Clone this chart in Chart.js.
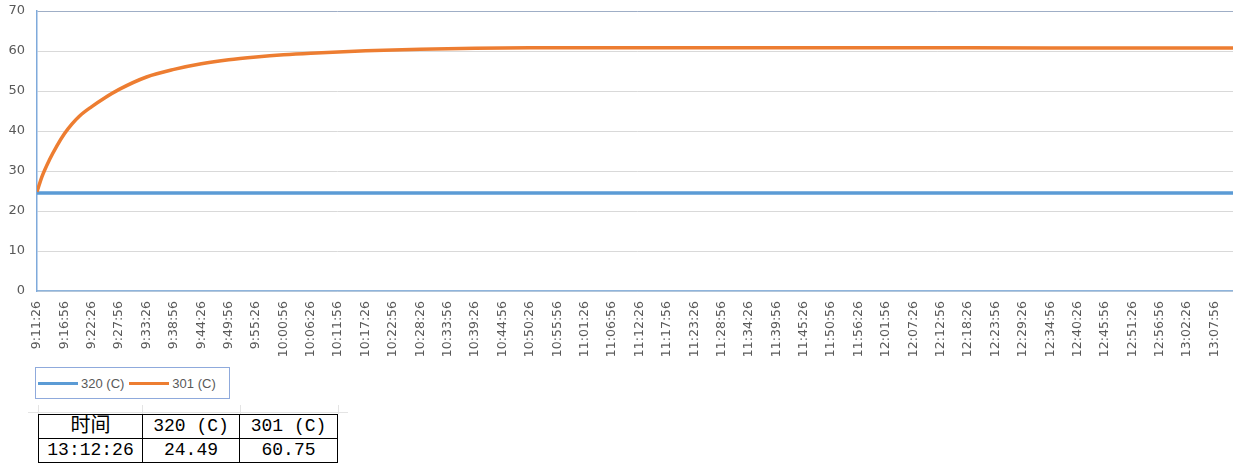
<!DOCTYPE html>
<html>
<head>
<meta charset="utf-8">
<script src="https://cdn.jsdelivr.net/npm/chart.js@4/dist/chart.umd.min.js"></script>
<style>
  html, body { margin: 0; padding: 0; background: #fff; width: 1233px; height: 464px; overflow: hidden; }
  #wrap { position: absolute; left: 0; top: 0; width: 1237px; height: 362px; }
  #legend { position: absolute; left: 35px; top: 367px; width: 195px; height: 32px; border: 1px solid #8FAADC; display: flex; align-items: center; padding: 0 0 0 2px; font-family: "Liberation Sans", Arial, sans-serif; font-size: 13px; color: #595959; box-sizing: border-box; }
  #legend .item { display: flex; align-items: center; margin-right: 5px; }
  #legend .swatch { width: 40px; height: 3px; margin-right: 3px; }
  #tbl { position: absolute; left: 38px; top: 414px; border-collapse: collapse; font-family: "Liberation Mono", "Noto Sans CJK SC", monospace; font-size: 18px; color: #000; }
  #tbl td { border: 1.5px solid #000; text-align: center; padding: 0; height: 23px; line-height: 23px; }
  .gl { position: absolute; background: #E4E4E4; }
</style>
</head>
<body>
<div id="wrap"><canvas id="c"></canvas></div>
<div id="legend"></div>
<div class="gl" style="left:28px; top:412px; width:320px; height:1px;"></div>
<div class="gl" style="left:38px; top:405px; width:1px; height:9px;"></div>
<div class="gl" style="left:142px; top:405px; width:1px; height:9px;"></div>
<div class="gl" style="left:240px; top:405px; width:1px; height:9px;"></div>
<div class="gl" style="left:338px; top:405px; width:1px; height:9px;"></div>
<table id="tbl"></table>
<script>
// ---- data ----
const startTime = '9:11:26';
const endTime = '13:12:26';
const tickLabels = ['9:11:26','9:16:56','9:22:26','9:27:56','9:33:26','9:38:56','9:44:26','9:49:56','9:55:26','10:00:56',
  '10:06:26','10:11:56','10:17:26','10:22:56','10:28:26','10:33:56','10:39:26','10:44:56','10:50:26','10:55:56',
  '11:01:26','11:06:56','11:12:26','11:17:56','11:23:26','11:28:56','11:34:26','11:39:56','11:45:26','11:50:56',
  '11:56:26','12:01:56','12:07:26','12:12:56','12:18:26','12:23:56','12:29:26','12:34:56','12:40:26','12:45:56',
  '12:51:26','12:56:56','13:02:26','13:07:56'];
const seriesNames = ['320 (C)', '301 (C)'];
const sampleTimes = ['9:11:26','9:12:26','9:13:56','9:15:26','9:16:56','9:18:26','9:19:56','9:22:26','9:24:56','9:27:56',
  '9:33:26','9:38:56','9:44:26','9:49:56','9:55:26','10:00:56','10:06:26','10:17:26','10:28:26','10:39:26',
  '10:50:26','11:12:26','11:45:26','12:18:26','12:51:26','13:12:26'];
const values320 = [24.5,24.5,24.5,24.5,24.5,24.5,24.5,24.5,24.5,24.5,
  24.5,24.5,24.5,24.5,24.5,24.5,24.5,24.5,24.5,24.5,
  24.5,24.5,24.5,24.5,24.5,24.49];
const values301 = [24.8,28.6,32.8,36.3,39.3,41.7,43.7,46.1,48.2,50.4,
  53.5,55.4,56.8,57.8,58.5,59.05,59.45,60.05,60.45,60.7,
  60.8,60.8,60.8,60.8,60.75,60.75];
const tableHeader = ['时间', '320 (C)', '301 (C)'];
const tableRow = ['13:12:26', '24.49', '60.75'];
const colors = ['#5B9BD5', '#ED7D31'];

// ---- helpers ----
function toSec(t) { const p = t.split(':').map(Number); return p[0]*3600 + p[1]*60 + p[2]; }
const t0 = toSec(startTime);
const rel = t => toSec(t) - t0;
const pts = vals => sampleTimes.map((t, i) => ({ x: rel(t), y: vals[i] }));

// legend
const lg = document.getElementById('legend');
seriesNames.forEach((n, i) => {
  const it = document.createElement('div'); it.className = 'item';
  it.innerHTML = '<div class="swatch" style="background:' + colors[i] + '"></div><span>' + n + '</span>';
  lg.appendChild(it);
});
// table
const tb = document.getElementById('tbl');
[tableHeader, tableRow].forEach((r, ri) => {
  const tr = document.createElement('tr');
  r.forEach((c, j) => {
    const td = document.createElement('td'); td.textContent = c;
    td.style.width = [103, 96, 97][j] + 'px';
    if (ri === 0 && j === 0) td.style.fontSize = '20px';
    tr.appendChild(td);
  });
  tb.appendChild(tr);
});

Chart.defaults.font.family = '"DejaVu Sans", "Liberation Sans", sans-serif';
Chart.defaults.color = '#595959';

new Chart(document.getElementById('c'), {
  type: 'line',
  data: {
    datasets: [
      { label: seriesNames[0], data: pts(values320), borderColor: colors[0], backgroundColor: colors[0], borderWidth: 3.5, pointRadius: 0, order: 1, cubicInterpolationMode: 'monotone' },
      { label: seriesNames[1], data: pts(values301), borderColor: colors[1], backgroundColor: colors[1], borderWidth: 3.5, pointRadius: 0, order: 0, cubicInterpolationMode: 'monotone' }
    ]
  },
  options: {
    responsive: true,
    maintainAspectRatio: false,
    animation: false,
    layout: { padding: { top: 11, left: 0, right: 0, bottom: 0 } },
    plugins: { legend: { display: false }, tooltip: { enabled: false } },
    scales: {
      x: {
        type: 'linear',
        min: 0,
        max: rel(endTime),
        afterBuildTicks: s => { s.ticks = tickLabels.map(l => ({ value: rel(l) })); },
        afterFit: s => { s.height = 71; s.paddingRight = 0; s.paddingLeft = 0; },
        ticks: {
          autoSkip: false, minRotation: 90, maxRotation: 90, padding: 10,
          font: { size: 12.5 }, color: '#595959',
          callback: (v, i) => tickLabels[i]
        },
        grid: { display: false, drawTicks: false },
        border: { display: true, color: '#8EB4DC', width: 1.5 }
      },
      y: {
        min: 0, max: 70,
        afterFit: s => { s.width = 37; s.paddingTop = 0; s.paddingBottom = 0; },
        ticks: { stepSize: 10, padding: 12, font: { size: 13 }, color: '#595959' },
        grid: { drawTicks: false, color: ctx => (ctx.tick && ctx.tick.value === 70) ? '#9FAEC6' : '#D9D9D9', lineWidth: 1 },
        border: { display: true, color: '#7FAADB', width: 1.5 }
      }
    }
  }
});
</script>
</body>
</html>
